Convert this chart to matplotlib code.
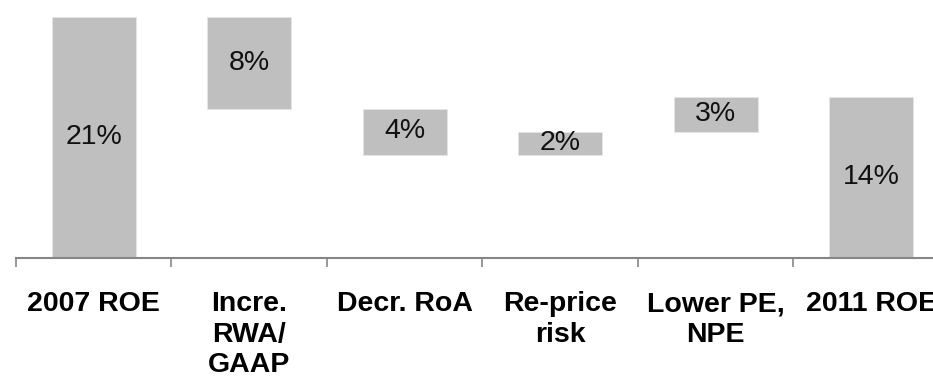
import numpy as np
import matplotlib.pyplot as plt

plt.rcParams['font.family'] = ['Liberation Sans', 'DejaVu Sans']

categories = ["2007 ROE", "Incre.\nRWA/\nGAAP", "Decr. RoA", "Re-price\nrisk",
              "Lower PE,\nNPE", "2011 ROE"]
start_roe = 21
changes = [-8, -4, 2, 3]
end_roe = 14
labels = ["21%", "8%", "4%", "2%", "3%", "14%"]

# waterfall: running level before/after each change
levels = np.cumsum([start_roe] + changes)
bottoms = [0]
heights = [start_roe]
for prev, cur in zip(levels[:-1], levels[1:]):
    bottoms.append(min(prev, cur))
    heights.append(abs(cur - prev))
bottoms.append(0)
heights.append(end_roe)

fig = plt.figure(figsize=(9.33, 3.76), dpi=100)
ax = fig.add_axes([16 / 933, 118 / 376, 933 / 933, 253 / 376])

x = np.arange(len(categories))
ax.bar(x, heights, bottom=bottoms, width=0.54, color="#BFBFBF",
       edgecolor="#E6E6E6", linewidth=0.6)

for xi, b, h, lab in zip(x, bottoms, heights, labels):
    ax.text(xi, b + h / 2, lab, ha="center", va="center", fontsize=20.5,
            color="#111111")

ax.set_xlim(-0.5, len(categories) - 0.5)
ax.set_ylim(0, 22)

for side in ["left", "right", "top"]:
    ax.spines[side].set_visible(False)
ax.spines["bottom"].set_color("#868686")
ax.spines["bottom"].set_linewidth(1.5)
ax.set_yticks([])

ax.set_xticks(np.arange(-0.5, len(categories)), minor=False)
ax.set_xticklabels([])
ax.tick_params(axis="x", which="major", direction="out", length=6.5,
               width=1.2, color="#868686")
ax.set_xticks(x, minor=True)
ax.set_xticklabels(categories, minor=True, fontsize=20.5, fontweight="bold",
                   linespacing=1.22)
ax.tick_params(axis="x", which="minor", length=0, pad=24)

fig.savefig("out.png", dpi=100)
